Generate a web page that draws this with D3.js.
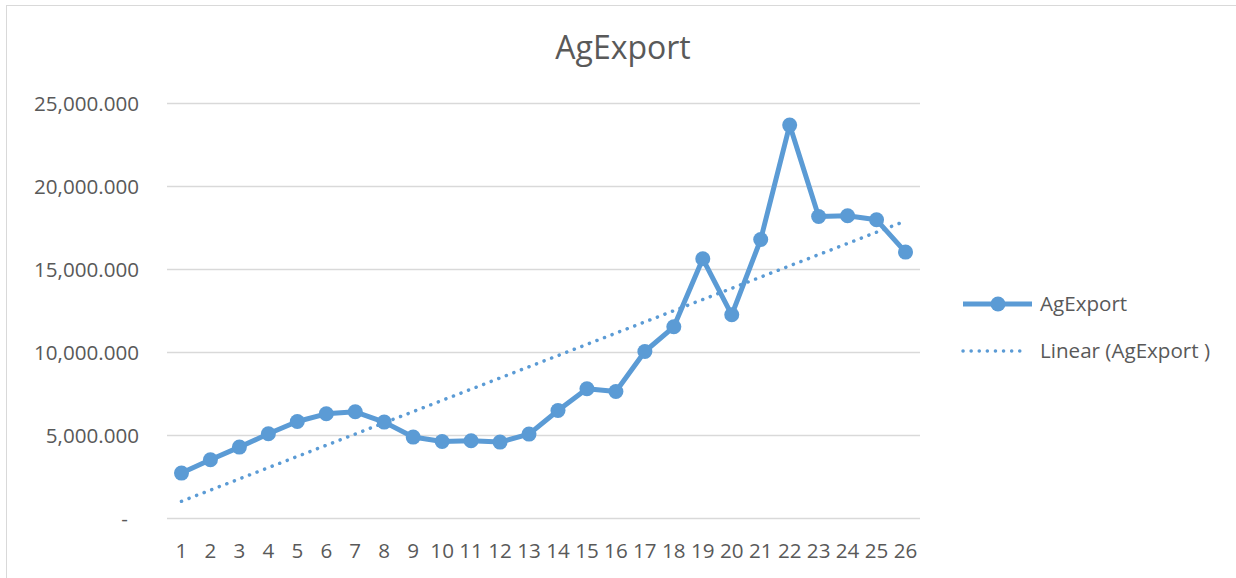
<!DOCTYPE html>
<html>
<head>
<meta charset="utf-8">
<script src="https://cdn.jsdelivr.net/npm/d3@7"></script>
<style>
  body { margin: 0; background: #fff; }
  svg { display: block; font-family: "Open Sans", sans-serif; }
</style>
</head>
<body>
<svg id="svg" width="1236" height="578"></svg>
<script>
const svg = d3.select("#svg");

const periods = d3.range(1, 27).map(String);
const agExport = [
  2735, 3536, 4300, 5102, 5843, 6307, 6428, 5807, 4904, 4639,
  4681, 4602, 5084, 6506, 7813, 7651, 10060, 11548, 15645, 12271,
  16807, 23699, 18193, 18235, 17994, 16048
];
const yTicks = [0, 5000, 10000, 15000, 20000, 25000];

const blue = "#5b9bd5";
const textColor = "#595959";
const fontSize = 20.6;

// plot area
const plotLeft = 167, plotRight = 920, plotTop = 103.5, plotBottom = 518.5;

const x = d3.scaleBand().domain(periods).range([plotLeft, plotRight]);
const y = d3.scaleLinear().domain([0, 25000]).range([plotBottom, plotTop]);

// chart border
svg.append("rect")
  .attr("x", 6.5).attr("y", 5.5)
  .attr("width", 1236).attr("height", 600)
  .attr("fill", "none")
  .attr("stroke", "#d9d9d9");

// title
svg.append("text")
  .attr("x", 623).attr("y", 59)
  .attr("text-anchor", "middle")
  .attr("font-size", 32)
  .attr("fill", textColor)
  .text("AgExport");

// gridlines
svg.append("g")
  .selectAll("line")
  .data(yTicks)
  .join("line")
  .attr("x1", plotLeft).attr("x2", plotRight)
  .attr("y1", d => y(d)).attr("y2", d => y(d))
  .attr("stroke", "#d9d9d9")
  .attr("stroke-width", 1.5);

// y axis labels
const fmt = d3.format(",.3f");
svg.append("g")
  .attr("text-anchor", "end")
  .selectAll("text")
  .data(yTicks)
  .join("text")
  .attr("x", d => d === 0 ? 128 : 139)
  .attr("y", d => y(d))
  .attr("dy", "0.35em")
  .attr("font-size", fontSize)
  .attr("fill", textColor)
  .text(d => d === 0 ? "-" : fmt(d));

// x axis labels
const xAxis = svg.append("g")
  .attr("transform", `translate(0,${plotBottom})`)
  .call(d3.axisBottom(x).tickSize(0).tickPadding(25));
xAxis.select(".domain").remove();
xAxis.selectAll("text")
  .attr("font-family", "Open Sans, sans-serif")
  .attr("font-size", fontSize)
  .attr("fill", textColor);

const cx = d => x(d) + x.bandwidth() / 2;

// linear trendline (least squares over 1..n)
const n = agExport.length;
const xs = d3.range(1, n + 1);
const mx = d3.mean(xs), my = d3.mean(agExport);
const slope = d3.sum(xs, (v, i) => (v - mx) * (agExport[i] - my)) /
  d3.sum(xs, v => (v - mx) * (v - mx));
const intercept = my - slope * mx;

svg.append("line")
  .attr("x1", cx(periods[0])).attr("y1", y(intercept + slope * 1))
  .attr("x2", cx(periods[n - 1])).attr("y2", y(intercept + slope * n))
  .attr("stroke", blue)
  .attr("stroke-width", 3.5)
  .attr("stroke-linecap", "round")
  .attr("stroke-dasharray", "0.1 8");

// data line
const line = d3.line()
  .x((d, i) => cx(periods[i]))
  .y(d => y(d));

svg.append("path")
  .datum(agExport)
  .attr("d", line)
  .attr("fill", "none")
  .attr("stroke", blue)
  .attr("stroke-width", 5)
  .attr("stroke-linejoin", "round");

svg.append("g")
  .selectAll("circle")
  .data(agExport)
  .join("circle")
  .attr("cx", (d, i) => cx(periods[i]))
  .attr("cy", d => y(d))
  .attr("r", 7.5)
  .attr("fill", blue);

// legend
const legend = svg.append("g");
legend.append("line")
  .attr("x1", 963).attr("x2", 1032)
  .attr("y1", 304).attr("y2", 304)
  .attr("stroke", blue).attr("stroke-width", 5);
legend.append("circle")
  .attr("cx", 998).attr("cy", 304).attr("r", 7.5)
  .attr("fill", blue);
legend.append("text")
  .attr("x", 1040).attr("y", 304).attr("dy", "0.35em")
  .attr("font-size", fontSize).attr("fill", textColor)
  .text("AgExport");

legend.append("line")
  .attr("x1", 963).attr("x2", 1027)
  .attr("y1", 351).attr("y2", 351)
  .attr("stroke", blue).attr("stroke-width", 3.5)
  .attr("stroke-linecap", "round")
  .attr("stroke-dasharray", "0.1 8");
legend.append("text")
  .attr("x", 1040).attr("y", 351).attr("dy", "0.35em")
  .attr("font-size", fontSize).attr("fill", textColor)
  .text("Linear (AgExport )");
</script>
</body>
</html>
